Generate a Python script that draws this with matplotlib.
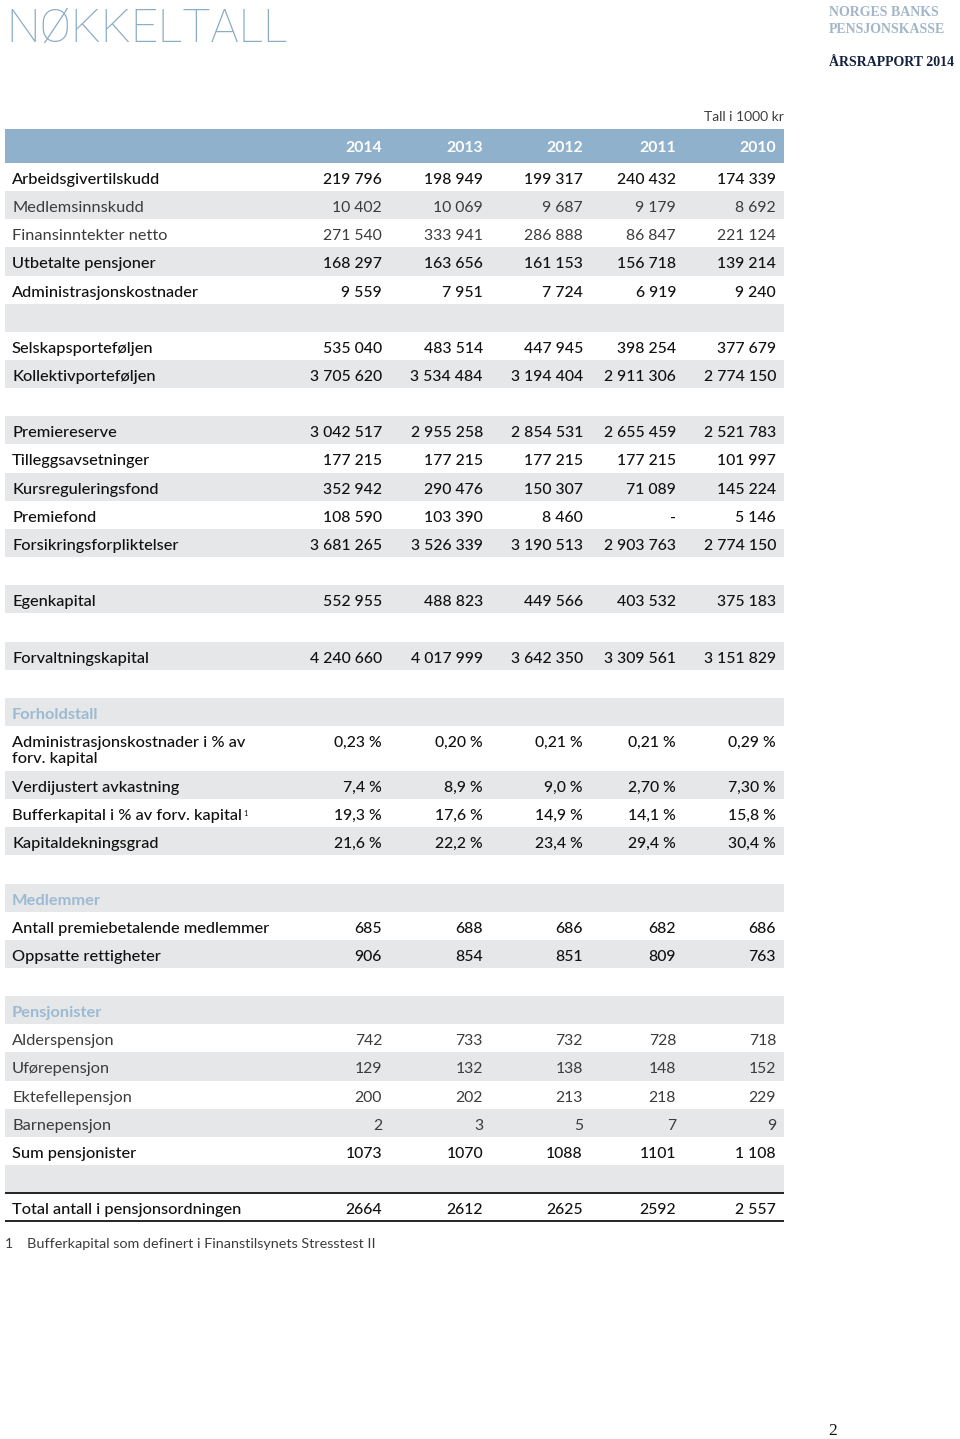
import matplotlib
matplotlib.use("Agg")
import matplotlib.pyplot as plt
from matplotlib.patches import Rectangle

plt.rcParams['font.family'] = ['Lato', 'DejaVu Sans']

# ---- data -------------------------------------------------------------
years = ['2014', '2013', '2012', '2011', '2010']

# (label, style) ; style: 'reg', 'light', 'section', 'blank', 'double'
row_labels = [
    ('Arbeidsgivertilskudd', 'reg'),
    ('Medlemsinnskudd', 'light'),
    ('Finansinntekter netto', 'light'),
    ('Utbetalte pensjoner', 'reg'),
    ('Administrasjonskostnader', 'reg'),
    ('', 'blank'),
    ('Selskapsporteføljen', 'reg'),
    ('Kollektivporteføljen', 'reg'),
    ('', 'blank'),
    ('Premiereserve', 'reg'),
    ('Tilleggsavsetninger', 'reg'),
    ('Kursreguleringsfond', 'reg'),
    ('Premiefond', 'reg'),
    ('Forsikringsforpliktelser', 'reg'),
    ('', 'blank'),
    ('Egenkapital', 'reg'),
    ('', 'blank'),
    ('Forvaltningskapital', 'reg'),
    ('', 'blank'),
    ('Forholdstall', 'section'),
    ('Administrasjonskostnader i % av\nforv. kapital', 'double'),
    ('Verdijustert avkastning', 'reg'),
    ('Bufferkapital i % av forv. kapital', 'reg'),
    ('Kapitaldekningsgrad', 'reg'),
    ('', 'blank'),
    ('Medlemmer', 'section'),
    ('Antall premiebetalende medlemmer', 'reg'),
    ('Oppsatte rettigheter', 'reg'),
    ('', 'blank'),
    ('Pensjonister', 'section'),
    ('Alderspensjon', 'light'),
    ('Uførepensjon', 'light'),
    ('Ektefellepensjon', 'light'),
    ('Barnepensjon', 'light'),
    ('Sum pensjonister', 'reg'),
    ('', 'blank'),
    ('Total antall i pensjonsordningen', 'reg'),
]

v2014 = ['219 796', '10 402', '271 540', '168 297', '9 559', '',
         '535 040', '3 705 620', '',
         '3 042 517', '177 215', '352 942', '108 590', '3 681 265', '',
         '552 955', '', '4 240 660', '', '',
         '0,23 %', '7,4 %', '19,3 %', '21,6 %', '', '',
         '685', '906', '', '',
         '742', '129', '200', '2', '1073', '', '2664']
v2013 = ['198 949', '10 069', '333 941', '163 656', '7 951', '',
         '483 514', '3 534 484', '',
         '2 955 258', '177 215', '290 476', '103 390', '3 526 339', '',
         '488 823', '', '4 017 999', '', '',
         '0,20 %', '8,9 %', '17,6 %', '22,2 %', '', '',
         '688', '854', '', '',
         '733', '132', '202', '3', '1070', '', '2612']
v2012 = ['199 317', '9 687', '286 888', '161 153', '7 724', '',
         '447 945', '3 194 404', '',
         '2 854 531', '177 215', '150 307', '8 460', '3 190 513', '',
         '449 566', '', '3 642 350', '', '',
         '0,21 %', '9,0 %', '14,9 %', '23,4 %', '', '',
         '686', '851', '', '',
         '732', '138', '213', '5', '1088', '', '2625']
v2011 = ['240 432', '9 179', '86 847', '156 718', '6 919', '',
         '398 254', '2 911 306', '',
         '2 655 459', '177 215', '71 089', '-', '2 903 763', '',
         '403 532', '', '3 309 561', '', '',
         '0,21 %', '2,70 %', '14,1 %', '29,4 %', '', '',
         '682', '809', '', '',
         '728', '148', '218', '7', '1101', '', '2592']
v2010 = ['174 339', '8 692', '221 124', '139 214', '9 240', '',
         '377 679', '2 774 150', '',
         '2 521 783', '101 997', '145 224', '5 146', '2 774 150', '',
         '375 183', '', '3 151 829', '', '',
         '0,29 %', '7,30 %', '15,8 %', '30,4 %', '', '',
         '686', '763', '', '',
         '718', '152', '229', '9', '1 108', '', '2 557']
columns = [v2014, v2013, v2012, v2011, v2010]

# ---- layout -----------------------------------------------------------
W, H = 960, 1439
left, right = 5, 784
col_right = [382, 483, 583, 676, 776]
header_top, header_bot = 129, 163
row_h = 28.15
double_h = 45
fs_lab = 11.8
fs_num = 11.3

header_col = '#8fb1cb'
grey = '#e6e7e8'
section_col = '#9cbad3'
text_col = '#111111'
light_col = '#3c3c3c'

fig = plt.figure(figsize=(W / 100, H / 100), dpi=100)
ax = fig.add_axes([0, 0, 1, 1])
ax.set_xlim(0, W)
ax.set_ylim(H, 0)
ax.axis('off')

# title and masthead
ax.text(6, 42, 'NØKKELTALL', family=['Roboto', 'DejaVu Sans'], fontsize=34,
        color='#8aacc6', fontweight='light', va='baseline', ha='left')
ax.text(829, 16, 'NORGES BANKS', family='Liberation Serif', fontweight='bold',
        fontsize=10, color='#a3b6c9', va='baseline')
ax.text(829, 33, 'PENSJONSKASSE', family='Liberation Serif', fontweight='bold',
        fontsize=10, color='#a3b6c9', va='baseline')
ax.text(829, 66, 'ÅRSRAPPORT 2014', family='Liberation Serif', fontweight='bold',
        fontsize=10, color='#14223f', va='baseline')

ax.text(right, 121, 'Tall i 1000 kr', fontsize=10, color=light_col,
        ha='right', va='baseline')

# header band
ax.add_patch(Rectangle((left, header_top), right - left, header_bot - header_top,
                       color=header_col, lw=0))
for x, yr in zip(col_right, years):
    ax.text(x, header_top + 23, yr, fontsize=fs_num, fontweight='bold', color='white',
            ha='right', va='baseline')

# rows
y = header_bot
for i, (label, style) in enumerate(row_labels):
    h = double_h if style == 'double' else row_h
    if i % 2 == 1:
        ax.add_patch(Rectangle((left, y), right - left, h, color=grey, lw=0))
    base = y + 21
    if style == 'section':
        ax.text(12, base, label, fontsize=fs_lab, fontweight='bold', color=section_col,
                va='baseline')
    elif style != 'blank':
        wt = 'normal' if style == 'light' else 'medium'
        c = light_col if style == 'light' else text_col
        if style == 'double':
            l1, l2 = label.split('\n')
            ax.text(12, base, l1, fontsize=fs_lab, fontweight=wt, color=c, va='baseline')
            ax.text(12, base + 16.5, l2, fontsize=fs_lab, fontweight=wt, color=c, va='baseline')
        else:
            t = ax.text(12, base, label, fontsize=fs_lab, fontweight=wt, color=c,
                        va='baseline')
            if label.startswith('Bufferkapital'):
                ax.annotate('1', xy=(1, 1), xycoords=t, xytext=(1, -5),
                            textcoords='offset points', fontsize=5.5,
                            color=c, va='baseline')
        for x, col in zip(col_right, columns):
            ax.text(x, base, col[i], fontsize=fs_num, fontweight=wt, color=c,
                    ha='right', va='baseline')
    if label.startswith('Total'):
        ax.plot([left, right], [y, y], color='black', lw=1.2, solid_capstyle='butt')
        ax.plot([left, right], [y + h, y + h], color='black', lw=1.2, solid_capstyle='butt')
    y += h

# footnote and page number
ax.text(5, 1248, '1', fontsize=10, color=light_col, va='baseline')
ax.text(27, 1248, 'Bufferkapital som definert i Finanstilsynets Stresstest II',
        fontsize=10.4, color=light_col, va='baseline')
ax.text(828, 1435, '2', family='Liberation Serif', fontsize=12.5, color='#111111',
        va='baseline')

fig.savefig('out.png', dpi=100)
